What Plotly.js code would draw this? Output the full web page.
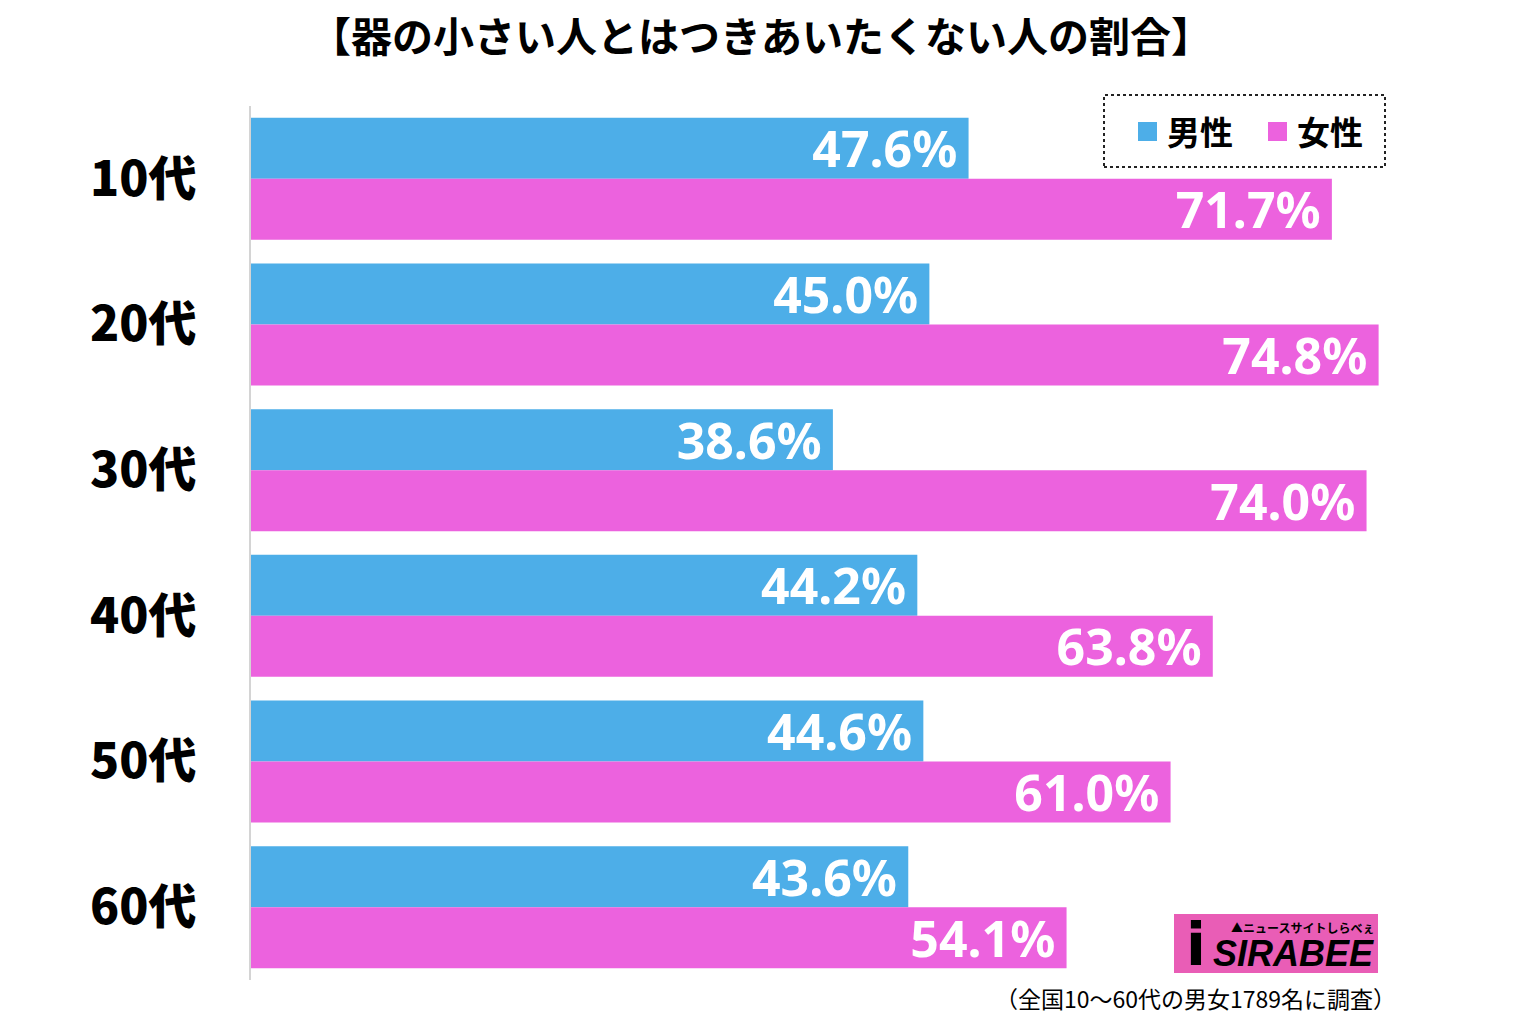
<!DOCTYPE html>
<html>
<head>
<meta charset="utf-8">
<script src="https://cdn.plot.ly/plotly-3.0.1.min.js"></script>
<style>
  body { margin: 0; background: #fff; }
  #chart { width: 1518px; height: 1024px; }
</style>
</head>
<body>
<div id="chart"></div>
<script>
// 年代ごとの割合（%）
var ageGroups = ['10代', '20代', '30代', '40代', '50代', '60代'];
var maleValues = [47.6, 45.0, 38.6, 44.2, 44.6, 43.6];
var femaleValues = [71.7, 74.8, 74.0, 63.8, 61.0, 54.1];
var seriesNames = ['男性', '女性'];
var seriesColors = ['#4DAEE8', '#EC62DE'];

var chartTitle = '【器の小さい人とはつきあいたくない人の割合】';
var footNote = '（全国10〜60代の男女1789名に調査）';

var W = 1518, H = 1024;
var L = 251, R = 61, T = 106, B = 44;
// ピクセル位置を paper 座標に変換
function px(x) { return (x - L) / (W - L - R); }
function py(y) { return (H - B - y) / (H - T - B); }

var labelFont = { family: 'Noto Sans, Noto Sans CJK JP', size: 50, color: '#ffffff', weight: 'bold' };

function makeTrace(vals, i) {
  return {
    type: 'bar',
    orientation: 'h',
    name: seriesNames[i],
    y: ageGroups,
    x: vals,
    marker: { color: seriesColors[i] },
    texttemplate: '%{x:.1f}%\u2009',
    textposition: 'inside',
    insidetextanchor: 'end',
    constraintext: 'none',
    insidetextfont: labelFont,
    hoverinfo: 'skip'
  };
}

var data = [makeTrace(maleValues, 0), makeTrace(femaleValues, 1)];

var layout = {
  width: W,
  height: H,
  margin: { l: L, r: R, t: T, b: B },
  paper_bgcolor: '#ffffff',
  plot_bgcolor: '#ffffff',
  barmode: 'group',
  bargap: 0.163,
  bargroupgap: 0,
  showlegend: false,
  font: { family: 'Noto Sans CJK JP', color: '#000' },
  title: {
    text: chartTitle,
    x: 761 / W, xref: 'container', xanchor: 'center',
    y: 1 - 38 / H, yref: 'container', yanchor: 'middle',
    font: { family: 'Noto Sans CJK JP', size: 41, color: '#000', weight: 'bold' }
  },
  xaxis: {
    range: [0, 80],
    visible: false,
    fixedrange: true
  },
  yaxis: {
    autorange: 'reversed',
    showline: true,
    linecolor: '#d4d4d4',
    linewidth: 2,
    showgrid: false,
    zeroline: false,
    ticks: '',
    ticklabelstandoff: 43,
    tickfont: { family: 'Noto Sans CJK JP', size: 48, color: '#000', weight: 900 },
    fixedrange: true
  },
  shapes: [
    // 凡例の枠
    { type: 'rect', xref: 'paper', yref: 'paper', x0: px(1104), x1: px(1385), y0: py(167), y1: py(95),
      line: { color: '#222', width: 2, dash: 'dot' }, fillcolor: 'rgba(0,0,0,0)' },
    { type: 'rect', xref: 'paper', yref: 'paper', x0: px(1138), x1: px(1157), y0: py(141), y1: py(122),
      line: { width: 0 }, fillcolor: seriesColors[0] },
    { type: 'rect', xref: 'paper', yref: 'paper', x0: px(1268), x1: px(1287), y0: py(141), y1: py(122),
      line: { width: 0 }, fillcolor: seriesColors[1] },
    // ロゴ背景
    { type: 'rect', xref: 'paper', yref: 'paper', x0: px(1174), x1: px(1378), y0: py(973), y1: py(914),
      line: { width: 0 }, fillcolor: '#E95DB6' }
  ],
  annotations: [
    { xref: 'paper', yref: 'paper', x: px(1165), y: py(131), xanchor: 'left', yanchor: 'middle',
      text: seriesNames[0], showarrow: false,
      font: { family: 'Noto Sans CJK JP', size: 33, color: '#000', weight: 'bold' } },
    { xref: 'paper', yref: 'paper', x: px(1295), y: py(131), xanchor: 'left', yanchor: 'middle',
      text: seriesNames[1], showarrow: false,
      font: { family: 'Noto Sans CJK JP', size: 33, color: '#000', weight: 'bold' } },
    { xref: 'paper', yref: 'paper', x: px(1398), y: py(998), xanchor: 'right', yanchor: 'middle',
      text: footNote, showarrow: false,
      font: { family: 'Noto Sans CJK JP', size: 23, color: '#000' } },
    // ロゴ文字
    { xref: 'paper', yref: 'paper', x: px(1376), y: py(927), xanchor: 'right', yanchor: 'middle',
      text: '▲ニュースサイトしらべぇ', showarrow: false,
      font: { family: 'Noto Sans CJK JP', size: 12, color: '#000', weight: 'bold' } },
    { xref: 'paper', yref: 'paper', x: px(1376), y: py(953), xanchor: 'right', yanchor: 'middle',
      text: '<i>SIRABEE</i>', showarrow: false,
      font: { family: 'Liberation Sans', size: 36, color: '#000', weight: 'bold' } },
    { xref: 'paper', yref: 'paper', x: px(1196), y: py(945), xanchor: 'center', yanchor: 'middle',
      text: 'i', showarrow: false,
      font: { family: 'DejaVu Sans', size: 58, color: '#000', weight: 'bold' } }
  ]
};

Plotly.newPlot('chart', data, layout, { displayModeBar: false, staticPlot: true });
</script>
</body>
</html>
